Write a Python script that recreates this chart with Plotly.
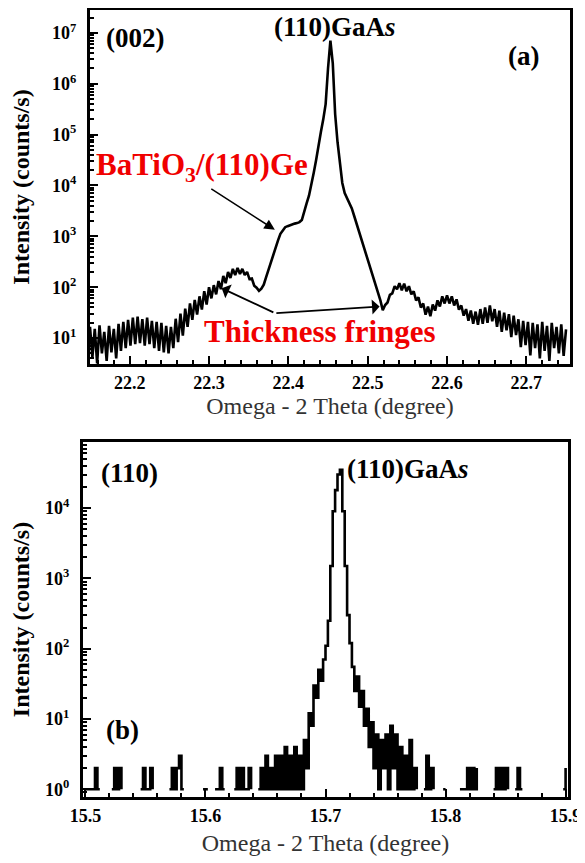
import plotly.graph_objects as go

# ---------------- Panel (a): (002) scan around 22.45 deg ----------------
omega_a_start = 22.150
omega_a_step = 0.003
# log10(intensity, counts/s), one value per scan step
log_intensity_a = [
    1.22, 0.62, 1.18, 0.50, 1.25, 0.70, 1.12, 0.55, 1.24, 0.72,
    1.18, 0.60, 1.28, 0.75, 1.32, 0.80, 1.36, 0.85, 1.40, 0.88,
    1.42, 0.90, 1.37, 0.85, 1.40, 0.88, 1.34, 0.80, 1.32, 0.75,
    1.30, 0.72, 1.24, 0.70, 1.22, 0.80, 1.38, 0.92, 1.48, 1.05,
    1.58, 1.22, 1.68, 1.36, 1.75, 1.46, 1.82, 1.56, 1.92, 1.66,
    2.00, 1.78, 2.04, 1.86, 2.12, 1.96, 2.22, 2.08, 2.30, 2.18,
    2.36, 2.24, 2.38, 2.26, 2.36, 2.24, 2.30, 2.16, 2.17, 2.03,
    1.99, 1.93, 1.97, 2.05, 2.20, 2.35, 2.50, 2.62, 2.78, 2.92,
    3.05, 3.12, 3.18, 3.20, 3.22, 3.24, 3.25, 3.26, 3.28, 3.32,
    3.50, 3.65, 3.80, 4.00, 4.25, 4.50, 4.80, 5.05, 5.30, 5.60,
    6.30, 6.85, 6.40, 5.40, 4.85, 4.50, 4.05, 3.85, 3.75, 3.65,
    3.55, 3.40, 3.25, 3.10, 2.95, 2.80, 2.65, 2.50, 2.35, 2.20,
    2.05, 1.90, 1.74, 1.55, 1.65, 1.70, 1.85, 1.88, 2.02, 1.96,
    2.08, 1.94, 2.07, 1.92, 2.02, 1.86, 1.92, 1.74, 1.80, 1.60,
    1.68, 1.46, 1.62, 1.43, 1.66, 1.54, 1.74, 1.62, 1.82, 1.68,
    1.84, 1.68, 1.82, 1.64, 1.76, 1.56, 1.64, 1.44, 1.57, 1.34,
    1.54, 1.28, 1.52, 1.26, 1.57, 1.28, 1.60, 1.30, 1.64, 1.33,
    1.57, 1.22, 1.54, 1.12, 1.50, 1.15, 1.47, 1.02, 1.44, 1.06,
    1.37, 0.82, 1.34, 0.86, 1.32, 0.66, 1.30, 0.80, 1.27, 0.60,
    1.32, 0.75, 1.24, 0.55, 1.30, 0.80, 1.22, 0.70, 1.27, 0.65, 1.17,
]
omega_a = [round(omega_a_start + omega_a_step * i, 4) for i in range(len(log_intensity_a))]
intensity_a = [10 ** v for v in log_intensity_a]

ticks_a_x = [22.2, 22.3, 22.4, 22.5, 22.6, 22.7]
ticks_a_y_exp = [1, 2, 3, 4, 5, 6, 7]

# ---------------- Panel (b): (110) scan around 15.71 deg ----------------
omega_b_start = 15.500
omega_b_step = 0.002
counts_b = [
    1, 1, 1, 1, 2, 1, 1, 0, 0, 1,
    0, 1, 2, 1, 2, 1, 0, 0, 0, 1,
    0, 0, 0, 1, 2, 1, 1, 2, 1, 0,
    0, 0, 0, 1, 0, 1, 2, 1, 2, 3,
    1, 1, 0, 3, 0, 0, 0, 0, 0, 1,
    1, 1, 0, 0, 1, 1, 2, 1, 1, 0,
    0, 0, 1, 2, 1, 2, 1, 1, 2, 1,
    0, 0, 1, 2, 1, 3, 1, 2, 1, 3,
    1, 3, 1, 4, 1, 3, 1, 4, 1, 3,
    1, 5, 2, 12, 8, 30, 20, 50, 35, 70,
    110, 250, 1500, 9000, 18000, 30000, 35000, 9000, 1500, 300,
    120, 55, 25, 40, 15, 25, 8, 14, 4, 9,
    2, 6, 1, 5, 2, 6, 1, 8, 2, 6,
    1, 4, 1, 3, 1, 5, 1, 2, 1, 0,
    0, 1, 3, 1, 2, 1, 0, 0, 0, 1,
    1, 0, 1, 0, 0, 0, 1, 1, 1, 2,
    1, 2, 1, 2, 0, 0, 0, 0, 0, 0,
    1, 2, 1, 2, 1, 2, 1, 0, 0, 1,
    2, 1, 1, 0, 1, 0, 0, 1, 0, 0,
    0, 0, 0, 0, 1, 0, 0, 0, 0, 1, 2,
]
omega_b = [round(omega_b_start + omega_b_step * i, 4) for i in range(len(counts_b))]
counts_b_plot = [c if c > 0 else None for c in counts_b]

ticks_b_x = [15.5, 15.6, 15.7, 15.8, 15.9]
ticks_b_y_exp = [0, 1, 2, 3, 4]

# ---------------- Geometry (page body has an 8 px margin) ----------------
OFF = 8
W, H = 585 - OFF, 863 - OFF


def px_x(p):
    return (p - OFF) / W


def px_y(p):
    return 1 - (p - OFF) / H


# ---------------- Figure ----------------
SERIF = "Liberation Serif, Times New Roman, Times, serif"
tickfont = dict(family=SERIF, size=18, color="black", weight="bold")
xtitlefont = dict(family=SERIF, size=24, color="#333333")
ytitlefont = dict(family=SERIF, size=24, color="black", weight="bold")

fig = go.Figure()
fig.add_trace(go.Scatter(x=omega_a, y=intensity_a, mode="lines",
                         line=dict(color="black", width=2.6),
                         xaxis="x", yaxis="y", showlegend=False, hoverinfo="skip"))
fig.add_trace(go.Scatter(x=omega_b, y=counts_b_plot, mode="lines",
                         line=dict(color="black", width=2.6, shape="hv"),
                         xaxis="x2", yaxis="y2", showlegend=False, hoverinfo="skip"))

minor_log = [m * 10 ** d for d in range(-1, 8) for m in range(2, 10)]

axis_common = dict(showline=True, linewidth=3, linecolor="black", mirror=True,
                   ticks="inside", ticklen=8, tickwidth=2, tickcolor="black",
                   showgrid=False, zeroline=False, automargin=False,
                   tickfont=tickfont)

fig.update_layout(
    width=W, height=H,
    margin=dict(l=0, r=0, t=0, b=0),
    paper_bgcolor="white", plot_bgcolor="white",
    showlegend=False,
    xaxis=dict(axis_common, domain=[px_x(90), px_x(570)], anchor="y",
               range=[22.15, 22.755], tickmode="array", tickvals=ticks_a_x,
               ticktext=[f"{v:.1f}" for v in ticks_a_x],
               minor=dict(ticks="inside", ticklen=4, tickwidth=1.5, dtick=0.02, tick0=22.2),
               title=dict(text="Omega - 2 Theta (degree)", font=xtitlefont, standoff=6)),
    yaxis=dict(axis_common, domain=[px_y(364), px_y(10)], anchor="x",
               type="log", range=[0.49, 7.45], tickmode="array",
               tickvals=[10 ** e for e in ticks_a_y_exp],
               ticktext=[f"10<sup>{e}</sup>" for e in ticks_a_y_exp],
               ticklabelstandoff=7,
               minor=dict(ticks="inside", ticklen=4, tickwidth=1.5, tickvals=minor_log),
               title=dict(text="Intensity (counts/s)", font=ytitlefont, standoff=22)),
    xaxis2=dict(axis_common, domain=[px_x(83), px_x(568)], anchor="y2",
                range=[15.498, 15.902], tickmode="array", tickvals=ticks_b_x,
                ticktext=[f"{v:.1f}" for v in ticks_b_x],
                minor=dict(ticks="inside", ticklen=4, tickwidth=1.5, dtick=0.02, tick0=15.5),
                title=dict(text="Omega - 2 Theta (degree)", font=xtitlefont, standoff=10)),
    yaxis2=dict(axis_common, domain=[px_y(797), px_y(442)], anchor="x2",
                type="log", range=[-0.11, 4.94], tickmode="array",
                tickvals=[10 ** e for e in ticks_b_y_exp],
                ticktext=[f"10<sup>{e}</sup>" for e in ticks_b_y_exp],
                ticklabelstandoff=7,
                minor=dict(ticks="inside", ticklen=4, tickwidth=1.5, tickvals=minor_log),
                title=dict(text="Intensity (counts/s)", font=ytitlefont, standoff=22)),
)

black_bold = dict(family=SERIF, size=27, color="black")
red_bold = dict(family=SERIF, size=31, color="#f00000")

annotations = [
    # panel (a) labels (y in log10 units on log axes)
    dict(x=22.168, y=6.9, xref="x", yref="y", text="<b>(002)</b>", showarrow=False,
         font=black_bold, xanchor="left"),
    dict(x=22.379, y=7.12, xref="x", yref="y", text="<b>(110)GaA<i>s</i></b>", showarrow=False,
         font=black_bold, xanchor="left"),
    dict(x=22.697, y=6.55, xref="x", yref="y", text="<b>(a)</b>", showarrow=False, font=black_bold),
    dict(x=22.291, y=4.36, xref="x", yref="y", text="<b>BaTiO<sub>3</sub>/(110)Ge</b>",
         showarrow=False, font=red_bold),
    dict(x=22.44, y=1.12, xref="x", yref="y", text="<b>Thickness fringes</b>",
         showarrow=False, font=red_bold),
    # arrows
    dict(x=22.383, y=3.13, xref="x", yref="y", ax=22.301, ay=3.95, axref="x", ayref="y",
         text="", showarrow=True, arrowhead=2, arrowsize=1.4, arrowwidth=1.5, arrowcolor="black"),
    dict(x=22.316, y=1.98, xref="x", yref="y", ax=22.383, ay=1.49, axref="x", ayref="y",
         text="", showarrow=True, arrowhead=1, arrowsize=1.4, arrowwidth=1.8, arrowcolor="black"),
    dict(x=22.515, y=1.62, xref="x", yref="y", ax=22.383, ay=1.49, axref="x", ayref="y",
         text="", showarrow=True, arrowhead=1, arrowsize=1.4, arrowwidth=1.8, arrowcolor="black"),
    # panel (b) labels
    dict(x=15.5114, y=4.5, xref="x2", yref="y2", text="<b>(110)</b>", showarrow=False,
         font=black_bold, xanchor="left"),
    dict(x=15.7164, y=4.55, xref="x2", yref="y2", text="<b>(110)GaA<i>s</i></b>", showarrow=False,
         font=black_bold, xanchor="left"),
    dict(x=15.5156, y=0.84, xref="x2", yref="y2", text="<b>(b)</b>", showarrow=False,
         font=black_bold, xanchor="left"),
]
fig.update_layout(annotations=annotations)

fig.write_html("out.html")
